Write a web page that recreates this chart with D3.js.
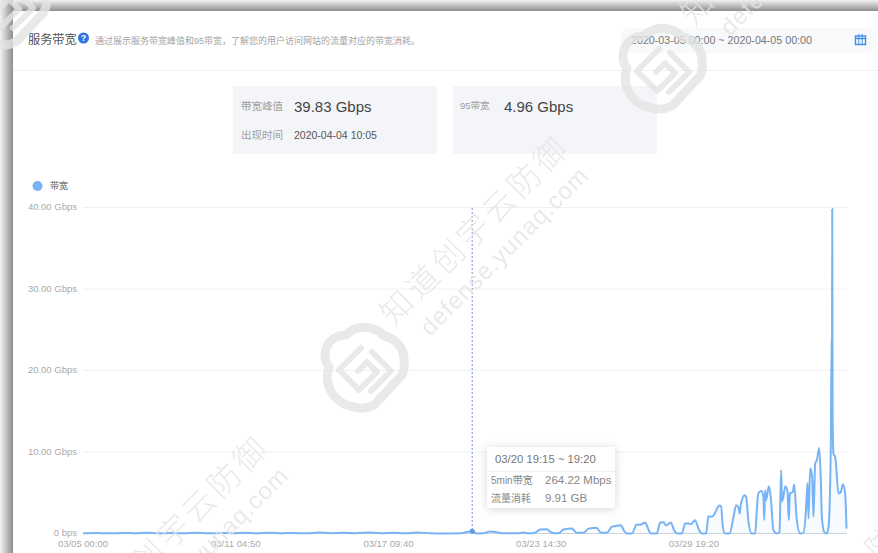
<!DOCTYPE html>
<html><head><meta charset="utf-8">
<script src="https://cdn.jsdelivr.net/npm/d3@7"></script>
<style>
html,body{margin:0;padding:0;background:#fff;overflow:hidden}
svg{display:block;filter:blur(.7px)}
text{font-family:"Liberation Sans","Noto Sans CJK SC",sans-serif}
</style></head><body><svg id="c" width="878" height="553"></svg>
<script>
const yTicks=[0,10,20,30,40];
const yTickLabels=["0 bps","10.00 Gbps","20.00 Gbps","30.00 Gbps","40.00 Gbps"];
const xTickHours=[0,148.83,297.67,446.5,595.33];
const xTickLabels=["03/05 00:00","03/11 04:50","03/17 09:40","03/23 14:30","03/29 19:20"];
const hours=[0,14,26,38,50,62,74,86,98,110,122,134,146,158,170,182,194,206,218,230,242,254,266,278,290,302,314,326,338,348,367.5,379.25,383.7,390.2,396.7,403.2,409.7,422.7,429.2,434.1,440.6,445.5,452,456.8,463.3,468.2,476.3,481.2,487.7,492.6,500.7,503.9,510.4,515.3,518.5,524,527.3,529.9,534.8,539.6,542.9,547.8,551,553.3,559.1,562.4,565.6,568.2,572.8,576,579.3,583.5,586.8,590,592.3,596.5,599.7,603,607.2,608.8,609.5,612.7,615,620.2,621.8,623.5,625.7,630,633.9,636.5,638.7,640,641,644.9,646.2,648.5,651.7,655,656.6,657.9,661.2,663.1,663.8,664.7,665.7,668.3,670.2,672.8,676.1,678.7,680.3,681.3,684.5,686.5,687.8,688.8,691.7,693,695.6,698.8,702.1,704.7,706,707,708.6,710.5,711.8,713.5,715.1,717.4,719,720,722.2,724.8,726.5,728.7,729.5,729.8,730.08,730.5,731.3,733,736.2,738.5,740.4,742.7,744];
const bandwidth=[.02,.06,.02,.07,.03,.08,.02,.06,.03,.09,.02,.07,.03,.08,.02,.1,.03,.07,.02,.12,.04,.08,.03,.13,.04,.09,.03,.12,.04,0,.04,.264,0,.02,.25,.16,.02,.02,.12,.02,.1,.5,.53,.1,.02,.5,.6,.1,.08,.6,.72,.16,.08,.82,.9,1.02,.33,0,0,1.1,1.06,1.35,.49,0,0,1.35,1.39,.98,1.35,.41,0,0,1.23,1.23,1.15,1.64,.61,0,0,1.64,2.13,2.04,2.33,3.44,3.35,.82,0,0,2.04,3.48,3.2,2.45,3.6,4.7,4.5,1.43,0,0,2.86,4.9,5.2,4.5,1.63,5.3,4.08,5.8,4.5,.41,0,.2,7.77,3.9,5.8,5.15,1.63,4.9,5.1,6.05,1.63,0,.08,3.27,6.2,1.84,8,7,2.05,8.6,9,10.5,6.5,2.05,.2,0,.8,10.6,23.8,14,39.83,14,9.8,9.4,4.9,5.1,6.05,4.9,.6];
const highlightHour=379.25, highlightValue=.264;
const svg=d3.select("#c");
const x=d3.scaleLinear().domain([0,744]).range([83,846.5]);
const y=d3.scaleLinear().domain([0,40]).range([533.5,207.5]);
const defs=svg.append("defs");
const gt=defs.append("linearGradient").attr("id","gt").attr("x1",0).attr("x2",0).attr("y1",0).attr("y2",1);
gt.append("stop").attr("offset",0).attr("stop-color","#f2f2f2");gt.append("stop").attr("offset",1).attr("stop-color","#8e8e8e");
const gl=defs.append("linearGradient").attr("id","gl");
gl.append("stop").attr("offset",0).attr("stop-color","#f2f2f2");gl.append("stop").attr("offset",1).attr("stop-color","#8e8e8e");
const ga=defs.append("linearGradient").attr("id","ga").attr("x1",0).attr("x2",0).attr("y1",0).attr("y2",1);
ga.append("stop").attr("offset",0).attr("stop-color","#78b4f5").attr("stop-opacity",.15);ga.append("stop").attr("offset",1).attr("stop-color","#78b4f5").attr("stop-opacity",.05);
svg.append("rect").attr("width",878).attr("height",553).attr("fill","#fff");
svg.append("rect").attr("x",0).attr("y",0).attr("width",878).attr("height",11).attr("fill","url(#gt)");
svg.append("rect").attr("x",0).attr("y",0).attr("width",13).attr("height",553).attr("fill","url(#gl)");
// header
svg.append("line").attr("x1",13).attr("x2",878).attr("y1",70.5).attr("y2",70.5).attr("stroke","#f0f1f3");
svg.append("text").attr("x",28).attr("y",44).attr("font-size",12.2).attr("fill","#555").text("服务带宽");
svg.append("circle").attr("cx",83.5).attr("cy",38).attr("r",5.5).attr("fill","#2f74e0");
svg.append("text").attr("x",83.5).attr("y",41).attr("text-anchor","middle").attr("font-size",9).attr("font-weight","bold").attr("fill","#fff").text("?");
svg.append("text").attr("x",95).attr("y",44).attr("font-size",9).attr("fill","#a3a3a3").text("通过展示服务带宽峰值和95带宽，了解您的用户访问网站的流量对应的带宽消耗。");
svg.append("rect").attr("x",620).attr("y",28).attr("width",256).attr("height",25).attr("rx",12).attr("fill","#f8f9fb");
svg.append("text").attr("x",631).attr("y",44).attr("font-size",10.7).attr("fill","#777").text("2020-03-05 00:00 ~ 2020-04-05 00:00");
// calendar icon
svg.append("rect").attr("x",855.5).attr("y",36).attr("width",10).attr("height",8.5).attr("fill","none").attr("stroke","#3f8ee6").attr("stroke-width",1.4);
svg.selectAll(".calv").data([858.8,862.2]).join("line").attr("x1",d=>d).attr("x2",d=>d).attr("y1",34).attr("y2",44).attr("stroke","#3f8ee6");
svg.append("line").attr("x1",855).attr("x2",866).attr("y1",38.5).attr("y2",38.5).attr("stroke","#3f8ee6").attr("stroke-width",1.4);
// stat boxes
svg.append("rect").attr("x",233).attr("y",86).attr("width",204).attr("height",68).attr("fill","#f3f5f8");
svg.append("rect").attr("x",453).attr("y",86).attr("width",204).attr("height",68).attr("fill","#f3f5f8");
svg.append("text").attr("x",241).attr("y",110).attr("font-size",10.5).attr("fill","#a0a0a0").text("带宽峰值");
svg.append("text").attr("x",294).attr("y",112).attr("font-size",15).attr("fill","#444").text("39.83 Gbps");
svg.append("text").attr("x",241).attr("y",139).attr("font-size",10.5).attr("fill","#a0a0a0").text("出现时间");
svg.append("text").attr("x",294).attr("y",139).attr("font-size",10.5).attr("fill","#555").text("2020-04-04 10:05");
svg.append("text").attr("x",460).attr("y",109).attr("font-size",9.5).attr("fill","#a0a0a0").text("95带宽");
svg.append("text").attr("x",504).attr("y",112).attr("font-size",15).attr("fill","#444").text("4.96 Gbps");
// legend
svg.append("circle").attr("cx",37.5).attr("cy",186).attr("r",5).attr("fill","#78b4f5");
svg.append("text").attr("x",50).attr("y",189).attr("font-size",9).attr("fill","#555").text("带宽");
// grid + axes
svg.append("g").selectAll("line").data(yTicks).join("line").attr("x1",83).attr("x2",847).attr("y1",d=>y(d)).attr("y2",d=>y(d)).attr("stroke",d=>d===0?"#cfd3da":"#eff0f2");
svg.append("g").selectAll("text").data(yTicks).join("text").attr("x",77).attr("y",d=>y(d)+2.7).attr("text-anchor","end").attr("font-size",9.5).attr("fill","#aaa").text((d,i)=>yTickLabels[i]);
svg.append("g").selectAll("text").data(xTickHours).join("text").attr("x",d=>x(d)).attr("y",546.5).attr("text-anchor","middle").attr("font-size",9.5).attr("fill","#aaa").text((d,i)=>xTickLabels[i]);
// area + line
const pts=hours.map((h,i)=>[h,bandwidth[i]]);
svg.append("path").datum(pts).attr("fill","url(#ga)").attr("d",d3.area().x(d=>x(d[0])).y0(y(0)).y1(d=>y(d[1])).curve(d3.curveMonotoneX));
svg.append("path").datum(pts).attr("fill","none").attr("stroke","#78b4f5").attr("stroke-width",2).attr("d",d3.line().x(d=>x(d[0])).y(d=>y(d[1])).curve(d3.curveMonotoneX));
// crosshair
svg.append("line").attr("x1",x(highlightHour)).attr("x2",x(highlightHour)).attr("y1",208).attr("y2",y(0)).attr("stroke","#7f9fd0").attr("stroke-dasharray","2 2").attr("stroke-width",1.1);
svg.append("circle").attr("cx",x(highlightHour)).attr("cy",y(highlightValue)).attr("r",2.5).attr("fill","#5b9be8");
// watermarks
const wm=svg.append("g").attr("opacity",.8);
function logo(cx,cy){
 const g=wm.append("g").attr("transform",`translate(${cx},${cy})`).attr("fill","none").attr("stroke","#e4e4e4").attr("stroke-width",9).attr("stroke-linejoin","round").attr("stroke-linecap","round");
 g.append("path").attr("d","M-14,37 A30,30 0 0 1 -35,-2 A20,20 0 0 1 -18,-34 A26,26 0 0 1 20,-33 A24,24 0 0 1 40,-8 A22,22 0 0 1 38,6 L10,36 A30,30 0 0 1 -14,37Z");
 g.append("path").attr("stroke-width",6).attr("d","M-3,-21 L-25,1 L-5,21 L13,3 L3,-7 L-6,2");
 g.append("path").attr("stroke-width",6).attr("d","M8,-17 L27,2 L7,22");
}
function mark(dx,dy){
 wm.append("text").attr("transform",`translate(${475+dx},${230+dy}) rotate(-45)`).attr("text-anchor","middle").attr("dy",".35em").attr("font-size",32).attr("font-weight",300).attr("letter-spacing",4).attr("fill","#e4e4e4").text("知道创宇云防御");
 wm.append("text").attr("transform",`translate(${504+dx},${251+dy}) rotate(-45)`).attr("text-anchor","middle").attr("dy",".35em").attr("font-size",24).attr("letter-spacing",1).attr("fill","#e4e4e4").text("defense.yunaq.com");
}
logo(364,369);logo(662,70);logo(6,6);
mark(0,0);mark(-300,300);mark(300,-300);mark(358,363);
// tooltip
const tip=svg.append("g");
tip.append("rect").attr("x",487).attr("y",447).attr("width",128).attr("height",61).attr("rx",2).attr("fill","#fff").style("filter","drop-shadow(0 1px 4px rgba(0,0,0,.16))");
tip.append("line").attr("x1",487).attr("x2",615).attr("y1",471.5).attr("y2",471.5).attr("stroke","#f0f0f0");
tip.append("text").attr("x",495).attr("y",463).attr("font-size",11.3).attr("fill","#777").text("03/20 19:15 ~ 19:20");
tip.append("text").attr("x",491).attr("y",484).attr("font-size",10).attr("fill","#888").text("5min带宽");
tip.append("text").attr("x",545).attr("y",484).attr("font-size",11.5).attr("fill","#888").text("264.22 Mbps");
tip.append("text").attr("x",491).attr("y",502).attr("font-size",10).attr("fill","#888").text("流量消耗");
tip.append("text").attr("x",545).attr("y",502).attr("font-size",11.5).attr("fill","#888").text("9.91 GB");
</script></body></html>
